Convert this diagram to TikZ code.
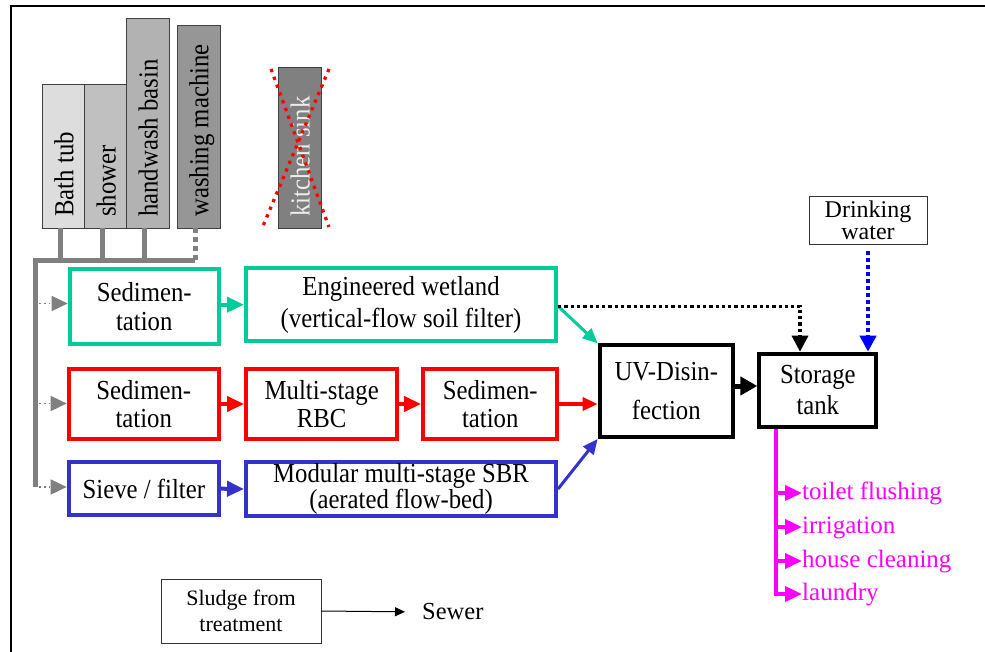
\documentclass[tikz,border=0pt]{standalone}
\usepackage{fontspec}
\setmainfont{Liberation Serif}
\newfontfamily\condfont[FakeStretch=0.9]{Liberation Serif}
\usetikzlibrary{arrows.meta,calc}
\newcommand\fz[2]{\fontsize{#1}{#2}\selectfont}
\definecolor{wgreen}{HTML}{00CC99}
\definecolor{rbcred}{HTML}{FF0000}
\definecolor{sbrblue}{HTML}{3333CC}
\definecolor{pipegray}{HTML}{808080}
\definecolor{usemag}{HTML}{FF00FF}
\definecolor{dwblue}{HTML}{0000FF}
\definecolor{bathc}{HTML}{DDDDDD}
\definecolor{showerc}{HTML}{C0C0C0}
\definecolor{basinc}{HTML}{B2B2B2}
\definecolor{washc}{HTML}{969696}
\definecolor{sinkc}{HTML}{808080}
\begin{document}
\begin{tikzpicture}[x=1pt,y=-1pt,
  src/.style={draw=black!75, line width=0.8pt, inner sep=0pt, minimum width=42.3pt},
  srclabel/.style={rotate=90, anchor=west, inner sep=0pt, text depth=0pt, font=\condfont\fz{27.5}{30}},
  proc/.style={draw, line width=4pt, inner sep=0pt, align=center},
  thinbox/.style={draw=black!80, line width=0.9pt, inner sep=0pt, align=center},
  pipe/.style={pipegray, line width=5pt},
  feed/.style={pipegray, line width=1.8pt, dash pattern=on 1.8pt off 3pt, -{Triangle[length=16pt,width=15pt]}},
  fatarrow/.style={line width=4pt, -{Triangle[length=17pt,width=15pt]}},
  slimarrow/.style={line width=3pt, -{Triangle[length=15pt,width=13pt]}},
  useline/.style={usemag, line width=3.5pt},
  usearrow/.style={usemag, line width=3.5pt, -{Triangle[length=17pt,width=15pt]}},
  uselabel/.style={usemag, anchor=west, inner sep=0pt, text height=17pt, text depth=5pt, font=\fz{25}{28}},
  xmark/.style={rbcred, line width=3.3pt, dash pattern=on 3.3pt off 5pt}
]
\useasboundingbox (0,0) rectangle (985,652);
\fill[white] (0,0) rectangle (985,652);
% frame (cropped)
\draw[line width=2pt] (11,652) -- (11,6.5) -- (985,6.5);

% sources
\node[src, fill=bathc, minimum height=143.3pt] (bath) at (63.8,156.3) {};
\node[src, fill=showerc, minimum height=143.3pt] (shower) at (106,156.3) {};
\node[src, fill=basinc, minimum height=209.7pt] (basin) at (148,123.2) {};
\node[src, fill=washc, minimum height=202.3pt] (wash) at (198.8,126.8) {};
\node[src, fill=sinkc, minimum height=160.3pt] (sink) at (300,147.8) {};
\node[srclabel] (bathT) at (63.8,217) {Bath tub};
\node[srclabel] (showerT) at (106,217) {shower};
\node[srclabel] (basinT) at (148,217) {handwash basin};
\node[srclabel] (washT) at (198.8,217) {washing machine};
\node[srclabel, text=black!7] (sinkT) at (300,217) {kitchen sink};
\draw[xmark] (271,69) -- (329,227);
\draw[xmark] (329,69) -- (263,226);

% collecting pipe
\coordinate (p1) at (60,261);
\coordinate (p2) at (102,261);
\coordinate (p3) at (144,261);
\coordinate (p4) at (195,261);
\coordinate (p0) at (35,261);
\coordinate (pend) at (35,487);
\draw[pipe] (bath.south -| p1) -- (p1);
\draw[pipe] (shower.south -| p2) -- (p2);
\draw[pipe] (basin.south -| p3) -- (p3);
\draw[pipegray, line width=5pt, dash pattern=on 5pt off 4pt] (wash.south -| p4) -- (p4);
\draw[pipe] (p4) -- (p0) -- (pend);

% treatment lines
\node[proc, draw=wgreen, minimum width=149.3pt, minimum height=74.4pt, font=\condfont\fz{27.5}{29}] (gsed) at (144.3,306.5) {Sedimen-\\tation};
\node[proc, draw=wgreen, minimum width=310pt, minimum height=73.3pt, font=\condfont\fz{27.5}{32.5}] (wet) at (401,304.7) {Engineered wetland\\(vertical-flow soil filter)};
\node[proc, draw=rbcred, minimum width=150.3pt, minimum height=69.4pt, font=\condfont\fz{27.5}{27.5}] (rsed) at (143.8,404) {Sedimen-\\tation};
\node[proc, draw=rbcred, minimum width=151.3pt, minimum height=69.4pt, font=\condfont\fz{27.5}{27.5}] (rbc) at (321.7,404) {Multi-stage\\RBC};
\node[proc, draw=rbcred, minimum width=134.3pt, minimum height=69.4pt, font=\condfont\fz{27.5}{27.5}] (rsed2) at (490.2,404) {Sedimen-\\tation};
\node[proc, draw=sbrblue, minimum width=150.3pt, minimum height=53.3pt, font=\condfont\fz{27.5}{22}] (sieve) at (143.8,488.7) {Sieve / filter};
\node[proc, draw=sbrblue, minimum width=310pt, minimum height=54pt, font=\condfont\fz{27.5}{22}] (sbr) at (401,489) {Modular multi-stage SBR\\(aerated flow-bed)};
\node[proc, draw=black, minimum width=133.3pt, minimum height=91.7pt, font=\condfont\fz{27.5}{39}] (uv) at (666.3,391.2) {UV-Disin-\\fection};
\node[proc, draw=black, minimum width=117pt, minimum height=73.6pt, font=\condfont\fz{27.5}{31}] (st) at (817.8,390.5) {Storage\\tank};
\node[thinbox, minimum width=118pt, minimum height=48pt, font=\fz{24}{22}] (dw) at (868,220) {Drinking\\water};
\node[thinbox, minimum width=160pt, minimum height=64pt, font=\fz{22}{26}] (sl) at (241,611) {Sludge from\\treatment};
\node[anchor=west, inner sep=0pt, font=\fz{24.5}{28}] (sew) at (422,612) {Sewer};

% feeds from the collecting pipe
\coordinate (g1) at (39,303.5);
\coordinate (g2) at (39,403.5);
\coordinate (g3) at (39,487);
\draw[feed] (g1) -- (g1 -| gsed.west);
\draw[feed] (g2) -- (g2 -| rsed.west);
\draw[feed] (g3) -- (g3 -| sieve.west);

% process arrows
\draw[fatarrow, wgreen] (gsed.east |- wet.west) -- (wet.west);
\draw[fatarrow, rbcred] (rsed.east) -- (rbc.west);
\draw[fatarrow, rbcred] (rbc.east) -- (rsed2.west);
\draw[fatarrow, sbrblue] (sieve.east) -- (sbr.west);
\draw[slimarrow, wgreen] ([yshift=-1.5pt]wet.east) -- (uv.north west);
\draw[slimarrow, rbcred, line width=3.5pt] (rsed2.east) -- (rsed2.east -| uv.west);
\draw[slimarrow, sbrblue] (sbr.east) -- (uv.south west);
\draw[line width=5pt, -{Triangle[length=17pt,width=18pt]}] (uv.east |- 0,386) -- (st.west |- 0,386);
\draw[line width=3.3pt, dash pattern=on 3.3pt off 3pt, -{Triangle[length=16pt,width=16pt]}] ([yshift=-1.5pt]wet.east) -| ([xshift=-17.8pt]st.north);
\draw[dwblue, line width=4pt, dash pattern=on 4pt off 3pt, -{Triangle[length=16pt,width=16pt]}, shorten <=7pt] (dw.south) -- (dw.south |- st.north);

% uses
\node[uselabel] (u1) at (802,493) {toilet flushing};
\node[uselabel] (u2) at (802,527) {irrigation};
\node[uselabel] (u3) at (802,561) {house cleaning};
\node[uselabel] (u4) at (802,594) {laundry};
\coordinate (m0) at ([xshift=-41.8pt]st.south);
\coordinate (m1) at (776,493);
\coordinate (m2) at (776,527);
\coordinate (m3) at (776,561);
\coordinate (m4) at (776,594);
\draw[useline] (m0) -- (m4);
\draw[usearrow] (m1) -- (u1.west);
\draw[usearrow] (m2) -- (u2.west);
\draw[usearrow] (m3) -- (u3.west);
\draw[usearrow] ([xshift=-1.75pt]m4) -- (u4.west);

% sludge
\draw[line width=1pt, -{Triangle[length=10pt,width=9pt]}, shorten >=17pt] (sl.east) -- (sew.west);
\end{tikzpicture}
\end{document}
